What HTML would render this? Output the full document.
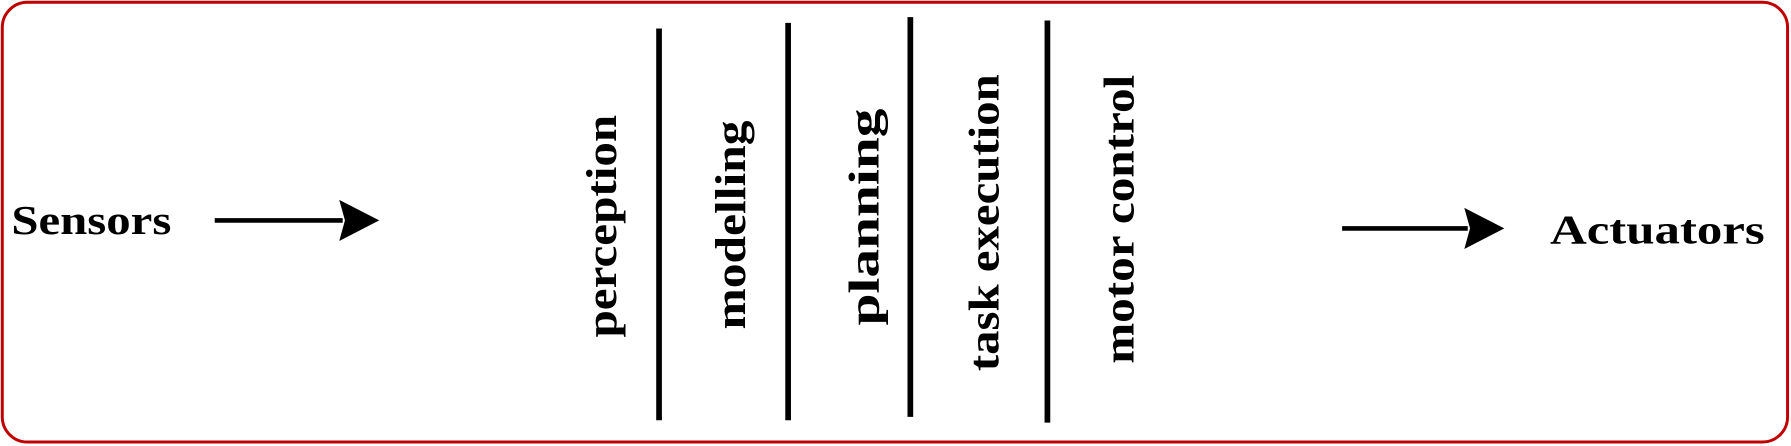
<!DOCTYPE html>
<html><head><meta charset="utf-8"><style>
html,body{margin:0;padding:0;background:#fff;}
svg{display:block;}
text{font-family:"Liberation Serif",serif;font-weight:bold;fill:#000;}
</style></head><body>
<svg width="1791" height="446" viewBox="0 0 1568 390.5" preserveAspectRatio="none">
<rect x="2" y="2" width="1563" height="385" rx="22" ry="22" fill="#fff" stroke="#c00000" stroke-width="2.6"/>
<text x="10" y="205" font-size="36" textLength="140" lengthAdjust="spacingAndGlyphs">Sensors</text>
<g>
<line x1="188" y1="193" x2="300" y2="193" stroke="#000" stroke-width="4"/>
<polygon points="297,175 332,193 297,211 302,193" fill="#000"/>
</g>
<g>
<line x1="577" y1="25" x2="577" y2="368" stroke="#000" stroke-width="5"/>
<line x1="690" y1="20" x2="690" y2="368" stroke="#000" stroke-width="5"/>
<line x1="797" y1="15" x2="797" y2="365" stroke="#000" stroke-width="5"/>
<line x1="917" y1="18" x2="917" y2="370" stroke="#000" stroke-width="5"/>
</g>
<text transform="translate(527,198) rotate(-90)" text-anchor="middle" dominant-baseline="central" font-size="38" textLength="195" lengthAdjust="spacingAndGlyphs">perception</text>
<text transform="translate(640,197) rotate(-90)" text-anchor="middle" dominant-baseline="central" font-size="38" textLength="183" lengthAdjust="spacingAndGlyphs">modelling</text>
<text transform="translate(757,190) rotate(-90)" text-anchor="middle" dominant-baseline="central" font-size="38" textLength="190" lengthAdjust="spacingAndGlyphs">planning</text>
<text transform="translate(862,195) rotate(-90)" text-anchor="middle" dominant-baseline="central" font-size="38" textLength="260" lengthAdjust="spacingAndGlyphs">task execution</text>
<text transform="translate(980,192) rotate(-90)" text-anchor="middle" dominant-baseline="central" font-size="38" textLength="253" lengthAdjust="spacingAndGlyphs">motor control</text>
<g>
<line x1="1175" y1="200" x2="1285" y2="200" stroke="#000" stroke-width="4"/>
<polygon points="1282,182 1317,200 1282,218 1287,200" fill="#000"/>
</g>
<text x="1357" y="213" font-size="36" textLength="188" lengthAdjust="spacingAndGlyphs">Actuators</text>
</svg>
</body></html>
